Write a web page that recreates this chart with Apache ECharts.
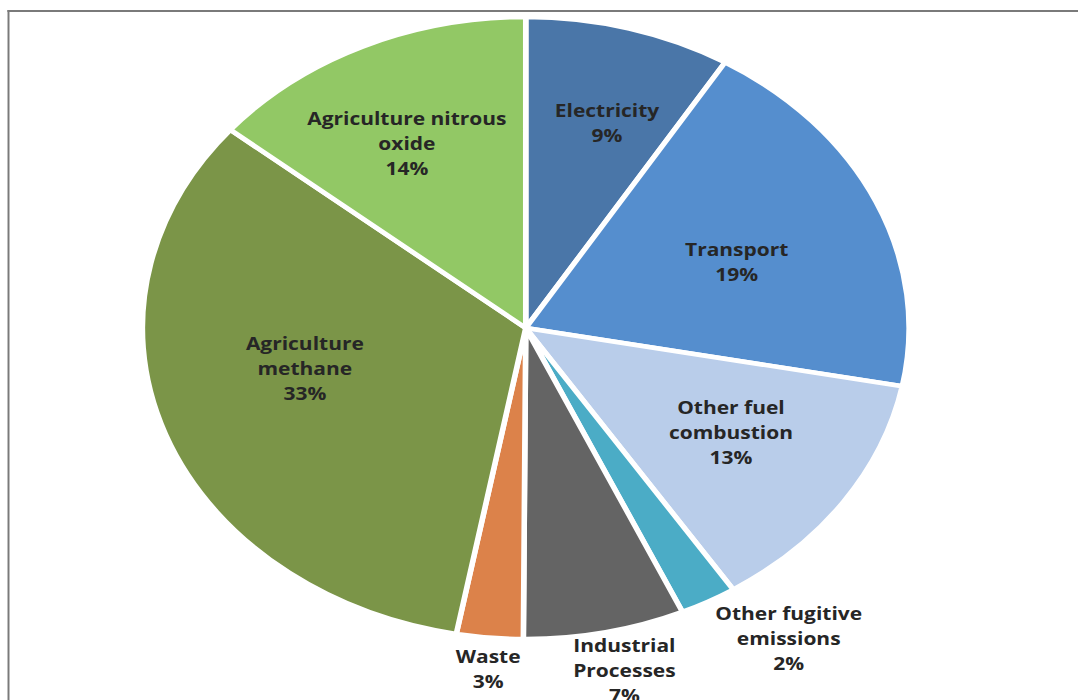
<!DOCTYPE html>
<html><head><meta charset="utf-8">
<script src="https://cdn.jsdelivr.net/npm/echarts@6/dist/echarts.min.js"></script>
<style>
html,body{margin:0;padding:0;background:#fff;overflow:hidden;}
#wrap{position:absolute;left:0;top:0;width:1078px;height:700px;overflow:hidden;}
#chart{position:absolute;left:0;top:0;width:874.5px;height:700px;transform:scaleX(1.2327);transform-origin:0 0;}
</style></head>
<body><div id="wrap"><div id="chart"></div></div>
<script>
// ---- data ----
const categories = ['Electricity', 'Transport', 'Other fuel combustion', 'Other fugitive emissions',
  'Industrial Processes', 'Waste', 'Agriculture methane', 'Agriculture nitrous oxide'];
const labelTexts = ['Electricity', 'Transport', 'Other fuel\ncombustion', 'Other fugitive\nemissions',
  'Industrial\nProcesses', 'Waste', 'Agriculture\nmethane', 'Agriculture nitrous\noxide'];
const shares = [8.7, 19.3, 12.9, 2.4, 6.8, 2.8, 33.1, 14.0];
const outsideLabelled = ['Other fugitive emissions', 'Industrial Processes', 'Waste'];

// ---- styles ----
const sliceColors = ['#4a76a8', '#558ece', '#b9cdea', '#4bacc6', '#646464', '#dc824a', '#7b9548', '#92c865'];
const labelNudge = {
  'Electricity': [13, -16], 'Transport': [-8, 14], 'Other fuel combustion': [4, -5],
  'Other fugitive emissions': [49, 7], 'Industrial Processes': [9, 5], 'Waste': [2, -2],
  'Agriculture methane': [5, -26], 'Agriculture nitrous oxide': [-13, -7]
};
const CX = 426.5, CY = 328, R = 311;
const textStyle = { fontFamily: 'Open Sans', fontWeight: 'bold', fontSize: 17, lineHeight: 25, color: '#262626' };

const chart = echarts.init(document.getElementById('chart'), null, { renderer: 'svg' });

function labelSeries(radius, outside) {
  return {
    type: 'pie', center: [CX, CY], radius: radius, startAngle: 90, clockwise: true,
    silent: true, animation: false, avoidLabelOverlap: false, z: 5,
    itemStyle: { color: 'rgba(0,0,0,0)', borderWidth: 0 },
    labelLine: { show: false },
    emphasis: { disabled: true },
    data: categories.map((c, i) => {
      const show = outsideLabelled.includes(c) === outside;
      return {
        name: c, value: shares[i],
        label: {
          show: show, position: 'inside', offset: labelNudge[c],
          formatter: p => labelTexts[i] + '\n' + Math.round(p.percent) + '%',
          ...textStyle
        }
      };
    })
  };
}

chart.setOption({
  backgroundColor: '#ffffff',
  animation: false,
  graphic: [
    { type: 'line', shape: { x1: 6, y1: 11, x2: 880, y2: 11 }, style: { stroke: '#7a7a7a', lineWidth: 2 }, silent: true },
    { type: 'line', shape: { x1: 6.9, y1: 10, x2: 6.9, y2: 700 }, style: { stroke: '#7a7a7a', lineWidth: 1.6 }, silent: true }
  ],
  series: [
    {
      type: 'pie', center: [CX, CY], radius: [0, R], startAngle: 90, clockwise: true,
      animation: false, silent: true,
      label: { show: false }, labelLine: { show: false },
      itemStyle: { borderColor: '#ffffff', borderWidth: 4.5 },
      emphasis: { disabled: true },
      data: categories.map((c, i) => ({ name: c, value: shares[i], itemStyle: { color: sliceColors[i] } }))
    },
    labelSeries([75, R], false),
    labelSeries([R, 373], true)
  ]
});
</script>
</body></html>
